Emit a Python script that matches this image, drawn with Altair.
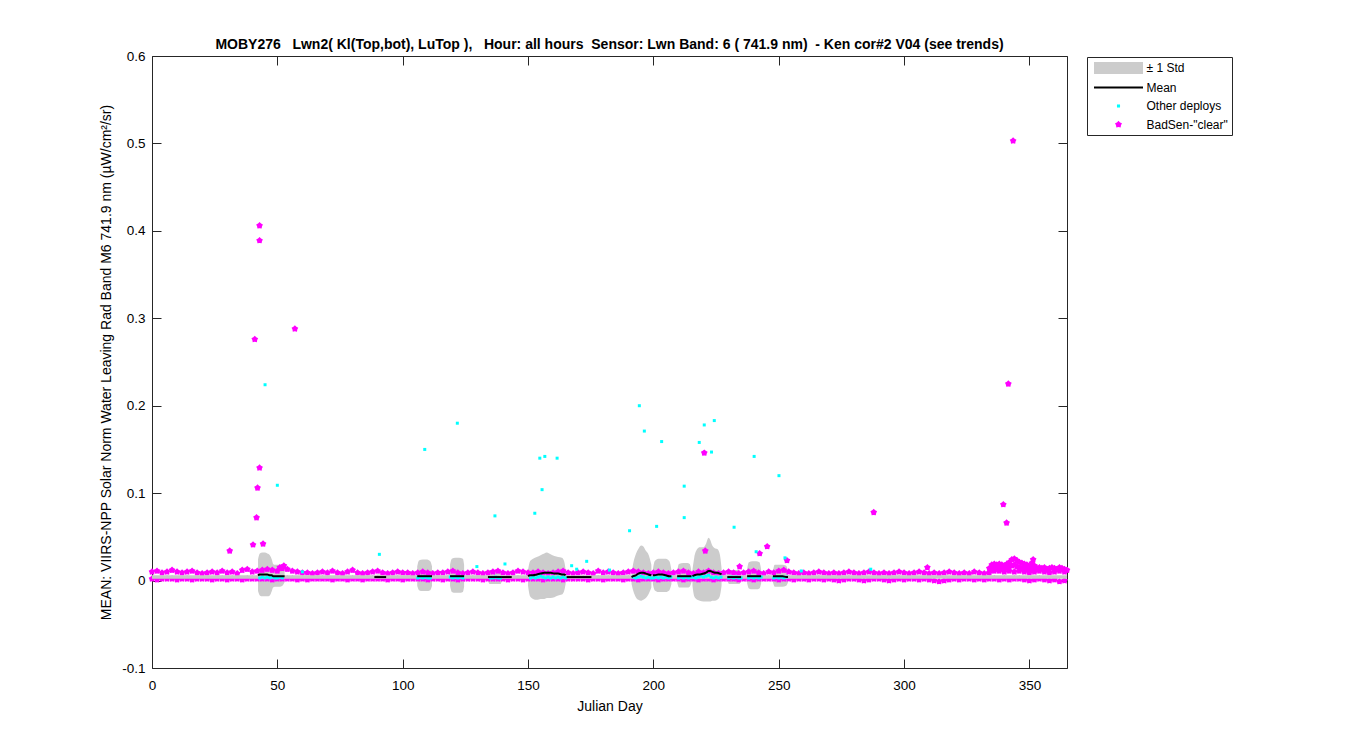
import math
import re
import altair as alt
import pandas as pd

# ------------------------------------------------------------------ text
TITLE = "MOBY276   Lwn2( Kl(Top,bot), LuTop ),   Hour: all hours  Sensor: Lwn Band: 6 ( 741.9 nm)  - Ken cor#2 V04 (see trends)"
Y_TITLE = "MEAN: VIIRS-NPP Solar Norm Water Leaving Rad Band M6 741.9 nm (µW/cm²/sr)"
X_TITLE = "Julian Day"

x_ticks = [0, 50, 100, 150, 200, 250, 300, 350]
y_ticks = [-0.1, 0.0, 0.1, 0.2, 0.3, 0.4, 0.5, 0.6]

legend_labels = ["± 1 Std", "Mean", "Other deploys", 'BadSen-"clear"']
legend_colors = ["#cccccc", "#000000", "#00ffff", "#ff00ff"]

# ------------------------------------------------------------------ data
# dense BadSen band, every second day, values in units of 0.001
band_days = list(range(0, 365, 2))
band_hi = [10, 11, 9, 10, 12, 10, 9, 10, 11, 9, 8, 9, 10, 9, 11, 9, 10, 8, 12, 13, 10,
           11, 12, 13, 12, 11, 14, 13, 11, 10, 9,
           9, 8, 9, 10, 9, 11, 9, 8, 10, 12, 9, 8, 9, 10, 11, 9, 8, 9, 10, 9,
           9, 8, 9, 10, 9, 8, 9, 9, 10, 11, 9, 8, 9, 10, 9, 8, 9, 10, 11, 9, 8, 9, 11, 10, 9,
           9, 10, 9, 8, 9, 10, 11, 9, 8, 9, 10, 9, 8, 11, 9, 10, 9, 8, 9, 10, 11, 10, 9, 8, 9,
           10, 9, 8, 9, 10, 11, 9, 8, 10, 9, 11, 9, 8, 9, 10, 9, 8, 9, 10, 11, 9, 8, 10, 9, 11,
           12, 10, 9, 8, 9, 8, 9, 10, 9, 8, 9, 8, 9, 10, 9, 8, 9, 10, 9, 8, 9, 8, 9, 10, 9,
           8, 9, 10, 9, 8, 9, 8, 9, 10, 9, 8, 9, 8, 10, 9, 8, 9,
           11, 11, 10, 11, 10, 11, 10, 9, 10, 11, 10, 9, 10, 11, 10]
band_lo = [2, 1, 2, 2, 2, 1, 2, 2, 1, 2,
           2, 2, 1, 2, 2, 1, 2, 2, 1, 2,
           2, 2, 2, 2, 1, 2, 2, 2, 2, 1,
           2, 1, 2, 2, 2, 2, 1, 2, 2, 1,
           2, 2, 1, 2, 2, 2, 2, 1, 2, 2,
           1, 2, 2, 2, 2, 1, 2, 2, 1, 2,
           2, 1, 2, 2, 2, 2, 1, 2, 2, 2,
           2, 1, 2, 2, 1, 2, 2, 2, 1, 2,
           2, 2, 1, 2, 2, 2, 2, 1, 2, 2,
           1, 2, 2, 2, 1, 2, 2, 1, 2, 2,
           2, 1, 2, 2, 2, 2, 1, 2, 2, 1,
           2, 2, 1, 2, 2, 2, 2, 1, 2, 2,
           1, 2, 2, 2, 2, 1, 2, 2, 1, 2,
           2, 1, 2, 2, 1, 2, 1, 0, 1, 2,
           2, 1, 0, 1, 2, 2, 1, 0, 1, 2,
           1, 2, 2, 1, 2, 1, 0, -1, 0, 1,
           2, 1, 2, 2, 1, 2, 1, 2, 2, 1,
           2, 1, 2, 2, 1, 0, 1, 2, 1, 0,
           1, -1, 0]

# elevated BadSen cloud at the end of the year (units of 0.001)
cloud_days = list(range(334, 366))
cloud_vals = [14, 18, 19, 18, 19, 18, 17, 19, 21, 24, 25, 23, 21, 20, 19, 18,
              16, 20, 17, 14, 15, 14, 15, 13, 14, 15, 14, 13, 15, 14, 13, 12]
cloud2_days = list(range(335, 353))
cloud2_vals = [13, 14, 13, 14, 13, 14, 15, 16, 17, 18, 16, 15, 14, 15, 13, 14, 13, 12]

# BadSen outliers
bad_day = [31.0, 40.3, 41.0, 41.7, 42.1, 42.9, 42.9, 42.9, 44.3, 51.0, 52.6, 57.0,
           220.3, 220.7, 234.4, 242.4, 245.4, 253.3, 287.9, 309.3,
           339.6, 340.9, 341.6, 343.5, 351.5]
bad_val = [0.034, 0.041, 0.276, 0.072, 0.106, 0.406, 0.389, 0.129, 0.042, 0.015, 0.017, 0.288,
           0.146, 0.034, 0.016, 0.031, 0.039, 0.023, 0.078, 0.015,
           0.087, 0.066, 0.225, 0.503, 0.024]

# Other deploys (cyan) outliers
oth_day = [45.1, 50.0, 60.0, 90.7, 108.8, 121.8, 129.6, 136.8, 140.8, 152.7, 154.7, 155.6,
           156.7, 161.6, 167.4, 169.4, 173.4, 182.5, 190.5, 194.4, 196.4, 201.3, 203.3,
           212.3, 212.3, 218.3, 220.3, 223.2, 224.3, 232.2, 240.2, 241.0, 250.1, 252.5,
           259.0, 286.7]
oth_val = [0.224, 0.109, 0.010, 0.030, 0.150, 0.180, 0.016, 0.074, 0.019, 0.077, 0.140, 0.104,
           0.142, 0.140, 0.017, 0.013, 0.022, 0.012, 0.057, 0.200, 0.171, 0.062, 0.159,
           0.108, 0.072, 0.158, 0.178, 0.147, 0.183, 0.061, 0.142, 0.033, 0.120, 0.026,
           0.011, 0.013]

# Other deploys near zero inside the deployment windows (units of 0.001)
oth_base_day = [43, 44, 45, 46, 47, 48, 49, 50, 51, 52,
                106, 107, 108, 109, 110, 111,
                119, 120, 121, 122, 123, 124,
                135, 136, 137, 138, 139,
                151, 152, 153, 154, 155, 156, 157, 158, 159, 160, 161, 162, 163, 164, 165,
                192, 193, 194, 195, 196, 197, 198, 199,
                200, 201, 202, 203, 204, 205, 206, 207,
                210, 211, 212, 213, 214, 215,
                216, 217, 218, 219, 220, 221, 222, 223, 224, 225, 226, 227,
                230, 231, 232, 233, 234, 235,
                238, 239, 240, 241, 242, 243,
                248, 249, 250, 251, 252, 253]
oth_base_val = [3, 4, 3, 4, 3, 4, 3, 3, 4, 3,
                3, 4, 3, 4, 3, 3,
                4, 3, 4, 3, 4, 3,
                3, 3, 4, 3, 3,
                3, 4, 3, 4, 5, 4, 3, 4, 3, 4, 3, 4, 3, 4, 3,
                4, 3, 4, 5, 4, 3, 4, 3,
                3, 4, 3, 4, 3, 4, 3, 4,
                3, 4, 3, 4, 3, 4,
                4, 3, 4, 5, 4, 5, 6, 4, 3, 4, 3, 4,
                3, 4, 3, 4, 3, 3,
                3, 4, 3, 4, 3, 4,
                3, 4, 3, 4, 3, 4]

# deployment windows: mean and +/- 1 std envelope
seg_id = ([1] * 13 + [2] * 5 + [3] * 6 + [4] * 6 + [5] * 6 + [6] * 3 + [7] * 13 + [8] * 3
          + [9] * 9 + [10] * 7 + [11] * 6 + [12] * 13 + [13] * 6 + [14] * 6 + [15] * 6)
seg_day = [42.3, 43, 44, 45, 46, 47, 47.8, 48.3, 49, 50, 51, 52, 52.9,
           88.7, 90, 91, 92, 93.4,
           105.8, 106.5, 108, 109.5, 111, 111.7,
           118.9, 119.6, 121, 122.5, 124, 124.5,
           134, 134.7, 136, 137.5, 139, 139.6,
           139.6, 141.5, 143.5,
           150, 150.8, 152, 153.5, 155, 156.5, 157.5, 159, 160.5, 162, 163.5, 164.4, 165,
           165.4, 170, 175.3,
           191.3, 192, 193, 194, 195.2, 196, 197, 198, 199.2,
           199.8, 200.5, 202, 203.5, 205, 206.4, 207.2,
           209.5, 210.2, 212, 213.5, 214.5, 215.2,
           215.6, 216.3, 217.5, 218.5, 220, 221, 222, 222.6, 223.5, 224.5, 225.5, 226.5, 227.2,
           229.5, 230.2, 232, 233.5, 234.3, 235,
           237.4, 238.1, 239.5, 241, 242.3, 243,
           247.7, 248.4, 250, 251.5, 253, 253.7]
seg_upper = [0.024, 0.031, 0.032, 0.032, 0.031, 0.029, 0.024, 0.019, 0.018, 0.018, 0.018, 0.017, 0.012,
             0.006, 0.007, 0.007, 0.007, 0.006,
             0.016, 0.023, 0.024, 0.024, 0.022, 0.016,
             0.018, 0.025, 0.026, 0.026, 0.025, 0.018,
             0.008, 0.012, 0.012, 0.012, 0.012, 0.008,
             0.005, 0.005, 0.005,
             0.012, 0.022, 0.025, 0.027, 0.029, 0.031, 0.032, 0.030, 0.028, 0.027, 0.026, 0.022, 0.012,
             0.005, 0.005, 0.005,
             0.008, 0.020, 0.030, 0.036, 0.040, 0.039, 0.034, 0.030, 0.018,
             0.012, 0.022, 0.025, 0.025, 0.025, 0.022, 0.012,
             0.010, 0.019, 0.020, 0.020, 0.019, 0.010,
             0.012, 0.026, 0.036, 0.038, 0.038, 0.042, 0.049, 0.047, 0.040, 0.037, 0.036, 0.030, 0.014,
             0.007, 0.012, 0.012, 0.012, 0.012, 0.007,
             0.012, 0.021, 0.022, 0.022, 0.021, 0.012,
             0.010, 0.018, 0.018, 0.018, 0.017, 0.010]
seg_lower = [-0.012, -0.017, -0.018, -0.018, -0.018, -0.017, -0.012, -0.008, -0.007, -0.007, -0.007, -0.006, -0.002,
             0.002, 0.001, 0.001, 0.001, 0.002,
             -0.006, -0.011, -0.012, -0.012, -0.011, -0.006,
             -0.006, -0.013, -0.014, -0.014, -0.013, -0.007,
             0.000, -0.004, -0.004, -0.004, -0.004, 0.000,
             0.003, 0.003, 0.003,
             -0.006, -0.018, -0.021, -0.022, -0.021, -0.021, -0.020, -0.020, -0.019, -0.017, -0.016, -0.012, -0.004,
             0.003, 0.003, 0.003,
             -0.004, -0.012, -0.019, -0.022, -0.023, -0.022, -0.020, -0.016, -0.008,
             -0.004, -0.011, -0.013, -0.013, -0.013, -0.011, -0.004,
             -0.002, -0.008, -0.008, -0.008, -0.007, -0.002,
             -0.006, -0.018, -0.022, -0.023, -0.024, -0.024, -0.024, -0.024, -0.023, -0.023, -0.022, -0.018, -0.006,
             0.001, -0.004, -0.004, -0.004, -0.004, 0.001,
             -0.003, -0.009, -0.010, -0.010, -0.009, -0.003,
             -0.002, -0.007, -0.007, -0.007, -0.006, -0.002]
seg_mean = [0.006, 0.007, 0.007, 0.007, 0.007, 0.006, 0.006, 0.005, 0.005, 0.005, 0.005, 0.005, 0.005,
            0.004, 0.004, 0.004, 0.004, 0.004,
            0.005, 0.005, 0.005, 0.005, 0.005, 0.005,
            0.005, 0.005, 0.005, 0.005, 0.005, 0.005,
            0.004, 0.004, 0.004, 0.004, 0.004, 0.004,
            0.004, 0.004, 0.004,
            0.005, 0.006, 0.006, 0.007, 0.008, 0.009, 0.009, 0.009, 0.008, 0.008, 0.007, 0.007, 0.006,
            0.004, 0.004, 0.004,
            0.004, 0.005, 0.006, 0.008, 0.009, 0.009, 0.008, 0.007, 0.006,
            0.006, 0.006, 0.007, 0.007, 0.006, 0.005, 0.005,
            0.005, 0.005, 0.005, 0.005, 0.005, 0.005,
            0.005, 0.006, 0.007, 0.007, 0.008, 0.009, 0.011, 0.011, 0.010, 0.009, 0.009, 0.008, 0.007,
            0.004, 0.004, 0.004, 0.004, 0.004, 0.004,
            0.005, 0.005, 0.005, 0.005, 0.005, 0.005,
            0.005, 0.005, 0.005, 0.005, 0.004, 0.004]

# thin all-year std trace
thin_days = [0, 365]
thin_vals = [0.0042, 0.0042]

# ------------------------------------------------------------------ helpers
def keep_spaces(s):
    return re.sub(r" {2,}", lambda m: "\u00a0" * (len(m.group()) - 1) + " ", s)


def star_path(r_out, ratio=0.72):
    r_in = r_out * ratio
    pts = []
    for k in range(10):
        r = r_out if k % 2 == 0 else r_in
        a = -math.pi / 2 + k * math.pi / 5
        pts.append(f"{r * math.cos(a):.3f},{r * math.sin(a):.3f}")
    return "M" + "L".join(pts) + "Z"


def box_path(hw, hh):
    return f"M{-hw},{-hh}L{hw},{-hh}L{hw},{hh}L{-hw},{hh}Z"


FONT = "Liberation Sans"
STAR = star_path(1.0)
# legend symbols: nominal symbol size 196 -> 1 path unit = 7 px
LEG_SIZE = 196
legend_shapes = [box_path(3.5, 0.86), box_path(3.5, 0.13), box_path(0.22, 0.22), star_path(0.52)]

# ------------------------------------------------------------------ frames
band_df = pd.DataFrame({
    "day": band_days * 2,
    "val": [v / 1000 for v in band_hi] + [v / 1000 for v in band_lo],
})
cloud_df = pd.DataFrame({
    "day": cloud_days + cloud2_days,
    "val": [v / 1000 for v in cloud_vals] + [v / 1000 for v in cloud2_vals],
})
bad_df = pd.DataFrame({"day": bad_day, "val": bad_val})
bad_all = pd.concat([band_df, cloud_df, bad_df], ignore_index=True)

oth_df = pd.DataFrame({
    "day": oth_day + oth_base_day,
    "val": oth_val + [v / 1000 for v in oth_base_val],
})
seg_df = pd.DataFrame({"seg": seg_id, "day": seg_day, "up": seg_upper,
                       "lo": seg_lower, "mean": seg_mean})
thin_df = pd.DataFrame({"day": thin_days, "val": thin_vals})
leg_df = pd.DataFrame({"series": legend_labels})

# ------------------------------------------------------------------ scales / axes
XS = alt.Scale(domain=[0, 365], nice=False, zero=False)
YS = alt.Scale(domain=[-0.1, 0.6], nice=False, zero=False)

common = dict(domain=False, grid=False, tickSize=9, offset=-9, tickColor="#262626",
              tickWidth=1)
ax_bottom = alt.Axis(orient="bottom", values=x_ticks, labelPadding=10, title=X_TITLE,
                     titlePadding=8, format="d", labelFlush=False, **common)
ax_left = alt.Axis(orient="left", values=y_ticks, labelPadding=7, title=Y_TITLE,
                   titlePadding=8, labelExpr="toString(round(datum.value*10)/10)", **common)
ax_top = alt.Axis(orient="top", values=x_ticks, labels=False, title=None, **common)
ax_right = alt.Axis(orient="right", values=y_ticks, labels=False, title=None, **common)

# ------------------------------------------------------------------ layers
std_layers = []
for s in sorted(set(seg_id)):
    std_layers.append(
        alt.Chart(seg_df).transform_filter(f"datum.seg == {s}").mark_area(
            color="#cccccc", interpolate="monotone", opacity=1, orient="vertical"
        ).encode(
            x=alt.X("day:Q", scale=XS, axis=None),
            y=alt.Y("lo:Q", scale=YS, axis=None),
            y2=alt.Y2("up:Q"),
        )
    )

bad_layer = alt.Chart(bad_all).mark_point(shape=STAR, filled=True, size=50, color="#ff00ff",
                                          opacity=1, strokeWidth=0).encode(
    x=alt.X("day:Q", scale=XS, axis=ax_top),
    y=alt.Y("val:Q", scale=YS, axis=ax_right),
)

thin_layer = alt.Chart(thin_df).mark_line(color="#c8c8c8", strokeWidth=3.5).encode(
    x=alt.X("day:Q", scale=XS, axis=ax_bottom),
    y=alt.Y("val:Q", scale=YS, axis=ax_left),
)

oth_layer = alt.Chart(oth_df).mark_square(size=9, color="#00ffff", opacity=1).encode(
    x=alt.X("day:Q", scale=XS, axis=None),
    y=alt.Y("val:Q", scale=YS, axis=None),
)

mean_layer = alt.Chart(seg_df).mark_line(color="black", strokeWidth=2, interpolate="monotone").encode(
    x=alt.X("day:Q", scale=XS, axis=None),
    y=alt.Y("mean:Q", scale=YS, axis=None),
    detail="seg:N",
    order="day:Q",
)

leg = alt.Legend(title=None, orient="none", legendX=935, legendY=1, direction="vertical",
                 strokeColor="#262626", fillColor="white", padding=4,
                 symbolSize=LEG_SIZE, symbolStrokeWidth=0, symbolOffset=20.5,
                 labelFont=FONT, labelFontSize=12, labelColor="black", labelOffset=21,
                 rowPadding=5.5, labelLimit=300)
legend_layer = alt.Chart(leg_df).transform_filter("false").mark_point(
    filled=True, opacity=1, size=LEG_SIZE, strokeWidth=0).encode(
    x=alt.X("day:Q", scale=XS, axis=None),
    y=alt.Y("val:Q", scale=YS, axis=None),
    color=alt.Color("series:N", scale=alt.Scale(domain=legend_labels, range=legend_colors), legend=leg),
    shape=alt.Shape("series:N", scale=alt.Scale(domain=legend_labels, range=legend_shapes), legend=leg),
)

chart = alt.layer(*std_layers, bad_layer, thin_layer, oth_layer, mean_layer, legend_layer).resolve_axis(
    x="independent", y="independent"
).properties(
    width=915,
    height=612,
    padding={"left": 144, "top": 48, "right": 200, "bottom": 70},
    autosize=alt.AutoSizeParams(type="none"),
    title=alt.TitleParams(keep_spaces(TITLE), font=FONT, fontSize=14, fontWeight="bold",
                          color="black", anchor="middle", offset=-3),
).configure_view(
    stroke="#262626", strokeWidth=1
).configure_axis(
    labelFont=FONT, titleFont=FONT, labelFontSize=13.5, titleFontSize=14,
    titleFontWeight="normal", labelColor="black", titleColor="black",
)

chart.save("out.html", embed_options={"renderer": "svg", "actions": False})
